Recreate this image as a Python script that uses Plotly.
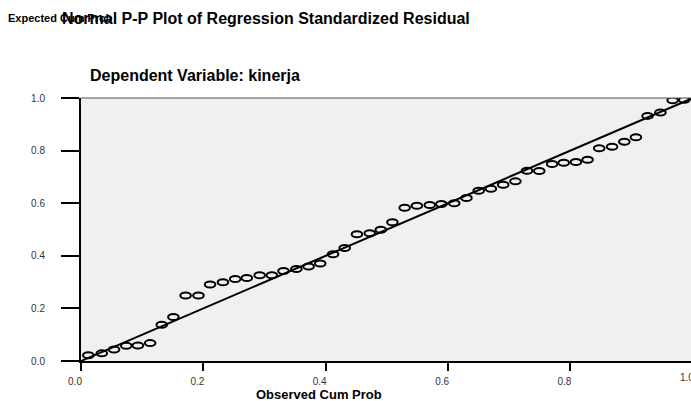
import plotly.graph_objects as go

# Data
obs_cum_prob = [0.012, 0.034, 0.054, 0.074, 0.093, 0.113, 0.132, 0.151, 0.171, 0.192,
                0.211, 0.232, 0.252, 0.271, 0.292, 0.312, 0.331, 0.352, 0.372, 0.391,
                0.412, 0.431, 0.451, 0.472, 0.490, 0.509, 0.529, 0.549, 0.570, 0.589,
                0.610, 0.630, 0.650, 0.670, 0.690, 0.710, 0.729, 0.749, 0.770, 0.789,
                0.809, 0.828, 0.847, 0.868, 0.888, 0.907, 0.926, 0.947, 0.967, 0.986]
exp_cum_prob = [0.022, 0.029, 0.044, 0.058, 0.059, 0.068, 0.138, 0.167, 0.249, 0.249,
                0.291, 0.299, 0.312, 0.316, 0.326, 0.326, 0.342, 0.350, 0.359, 0.371,
                0.406, 0.430, 0.482, 0.486, 0.499, 0.528, 0.583, 0.590, 0.593, 0.597,
                0.600, 0.620, 0.647, 0.655, 0.670, 0.683, 0.723, 0.722, 0.749, 0.754,
                0.757, 0.765, 0.809, 0.815, 0.834, 0.851, 0.932, 0.945, 0.991, 0.993]
ref_line_x = [0.0, 1.0]
ref_line_y = [0.0, 1.0]
tick_vals = [0.0, 0.2, 0.4, 0.6, 0.8, 1.0]
tick_text = ["0.0", "0.2", "0.4", "0.6", "0.8", "1.0"]

FONT = "Liberation Sans, Arial, sans-serif"
W, H = 691, 401
ML, MR, MT, MB = 81, 0, 98, 40
plot_w = W - ML - MR
plot_h = H - MT - MB
X_MAX = 0.997


def px_x(p):
    return (p - ML) / plot_w


def px_y(p):
    return (H - MB - p) / plot_h


fig = go.Figure()

fig.add_trace(go.Scatter(
    x=ref_line_x, y=ref_line_y, mode="lines",
    line=dict(color="black", width=2), hoverinfo="skip", showlegend=False,
))
fig.add_trace(go.Scatter(
    x=obs_cum_prob, y=exp_cum_prob, mode="markers",
    marker=dict(size=10, opacity=0), showlegend=False,
))

shapes = []
for xv, yv in zip(obs_cum_prob, exp_cum_prob):
    shapes.append(dict(
        type="circle", xref="x", yref="y",
        xsizemode="pixel", ysizemode="pixel",
        xanchor=xv, yanchor=yv,
        x0=-5.3, x1=5.3, y0=-3.0, y1=3.0,
        line=dict(color="black", width=2), fillcolor="rgba(0,0,0,0)",
        layer="above",
    ))
# top frame line
shapes.append(dict(type="line", xref="paper", yref="paper", x0=0, x1=1, y0=1, y1=1,
                   line=dict(color="#555555", width=1.2), layer="above"))

annotations = [
    dict(text="<b>Expected Cum Prob</b>", xref="paper", yref="paper",
         x=px_x(6), y=px_y(18), xanchor="left", yanchor="middle", showarrow=False,
         font=dict(family=FONT, size=11, color="black")),
    dict(text="<b>Normal P-P Plot of Regression Standardized Residual</b>", xref="paper", yref="paper",
         x=px_x(60), y=px_y(18), xanchor="left", yanchor="middle", showarrow=False,
         font=dict(family=FONT, size=16, color="black")),
    dict(text="<b>Dependent Variable: kinerja</b>", xref="paper", yref="paper",
         x=px_x(88), y=px_y(76), xanchor="left", yanchor="middle", showarrow=False,
         font=dict(family=FONT, size=16, color="black")),
    dict(text="<b>Observed Cum Prob</b>", xref="paper", yref="paper",
         x=px_x(318.5), y=px_y(394), xanchor="center", yanchor="middle", showarrow=False,
         font=dict(family=FONT, size=13, color="black")),
    dict(text=tick_text[-1], xref="paper", yref="paper",
         x=(tick_vals[-1] / X_MAX), y=px_y(377), xanchor="center", yanchor="middle",
         xshift=-6, showarrow=False,
         font=dict(family=FONT, size=10, color="#333333")),
]

fig.update_layout(
    width=W, height=H,
    margin=dict(l=ML, r=MR, t=MT, b=MB, pad=0),
    paper_bgcolor="white", plot_bgcolor="#f0f0f0",
    shapes=shapes, annotations=annotations,
    showlegend=False,
    font=dict(family=FONT, size=10, color="#333333"),
)
fig.update_xaxes(
    range=[0, X_MAX], tickvals=tick_vals[:-1], ticktext=tick_text[:-1],
    showgrid=False, zeroline=False,
    showline=True, linecolor="black", linewidth=2,
    ticks="outside", ticklen=8, tickwidth=2, tickcolor="black",
    ticklabelshift=-6, ticklabelstandoff=2,
    tickfont=dict(family=FONT, size=10, color="#333333"),
)
fig.update_yaxes(
    range=[0, 1], tickvals=tick_vals, ticktext=tick_text,
    showgrid=False, zeroline=False,
    showline=True, linecolor="black", linewidth=2,
    ticks="outside", ticklen=18, tickwidth=2, tickcolor="black",
    ticklabelstandoff=14,
    tickfont=dict(family=FONT, size=10, color="#333333"),
)

fig.write_html("out.html", config={"displayModeBar": False},
               post_script="document.body.style.margin='0';")
